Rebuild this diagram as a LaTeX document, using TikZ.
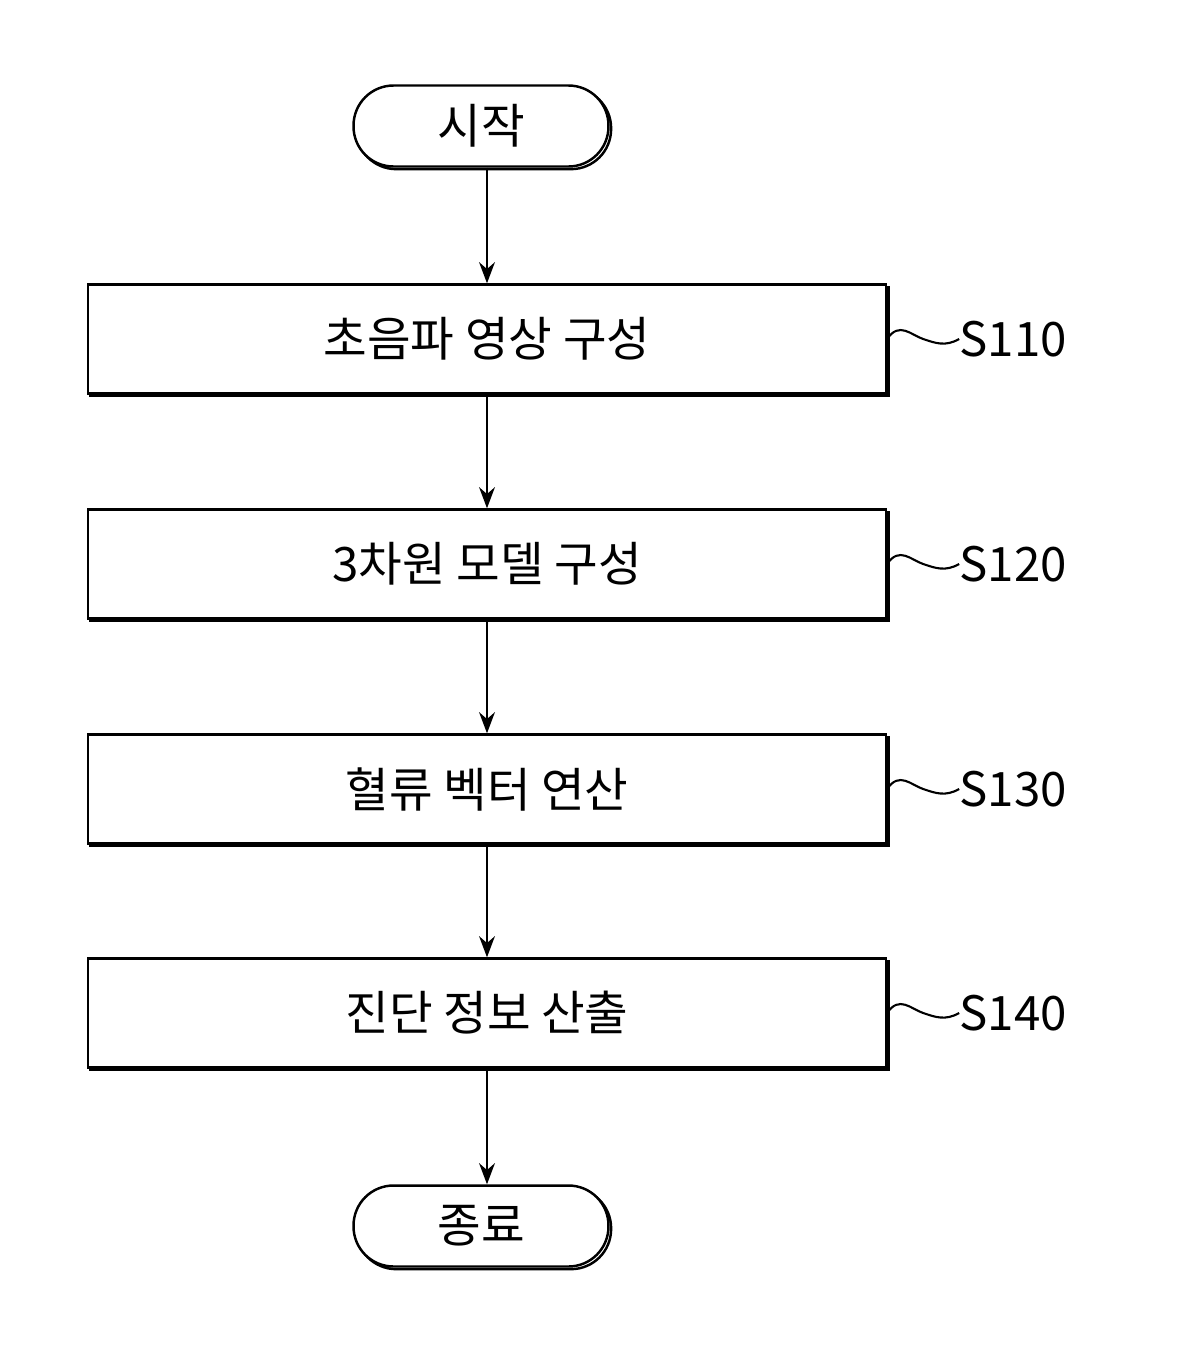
\documentclass[tikz,border=0pt]{standalone}
\usepackage{fontspec}
\setmainfont{Noto Sans CJK KR}
\usetikzlibrary{arrows.meta, positioning, shapes.geometric, shadows, calc}

\begin{document}
\begin{tikzpicture}[x=0.02cm, y=-0.02cm, font=\fontsize{27}{32}\selectfont,
    shd/.style={copy shadow={shadow xshift=1.5pt, shadow yshift=-1.5pt, fill=white, draw=black, line width=1.4pt}},
    term/.style={draw, line width=1.4pt, fill=white, shd,
                 minimum width=5.1cm, minimum height=1.62cm, inner sep=0pt},
    stepbox/.style={draw, line width=1.4pt, fill=white, shd,
                 minimum width=15.96cm, minimum height=2.18cm, inner sep=0pt},
    arr/.style={-{Stealth[length=12pt, width=9pt]}, line width=1.4pt},
    lbl/.style={anchor=west, inner sep=0pt}]
  \useasboundingbox (0,0) rectangle (1178,1357);
  \node[term, rounded corners=0.8cm] (start) at (481,126) {시작};
  \node[stepbox] (s110) at (487,339) {초음파 영상 구성};
  \node[stepbox] (s120) at (487,564) {3차원 모델 구성};
  \node[stepbox] (s130) at (487,789) {혈류 벡터 연산};
  \node[stepbox] (s140) at (487,1013) {진단 정보 산출};
  \node[term, rounded corners=0.8cm] (stop) at (481,1226) {종료};
  % connectors
  \draw[arr] (start.south -| s110.north) -- (s110.north);
  \foreach \a/\b in {s110/s120, s120/s130, s130/s140} {
    \draw[arr] (\a) -- (\b);
  }
  \draw[arr] (s140.south) -- (s140.south |- stop.north);
  % step labels
  \foreach \s/\t in {s110/S110, s120/S120, s130/S130, s140/S140} {
    \node[lbl] (\s l) at ($(\s.east)+(72,0)$) {\t};
    \draw[line width=1.2pt] (\s.east) .. controls ($(\s.east)+(12,-18)$) and ($(\s.east)+(24,-4)$) .. ($(\s.east)+(36,0)$)
      .. controls ($(\s.east)+(48,4)$) and ($(\s.east)+(58,8)$) .. (\s l.west);
  }
\end{tikzpicture}
\end{document}
